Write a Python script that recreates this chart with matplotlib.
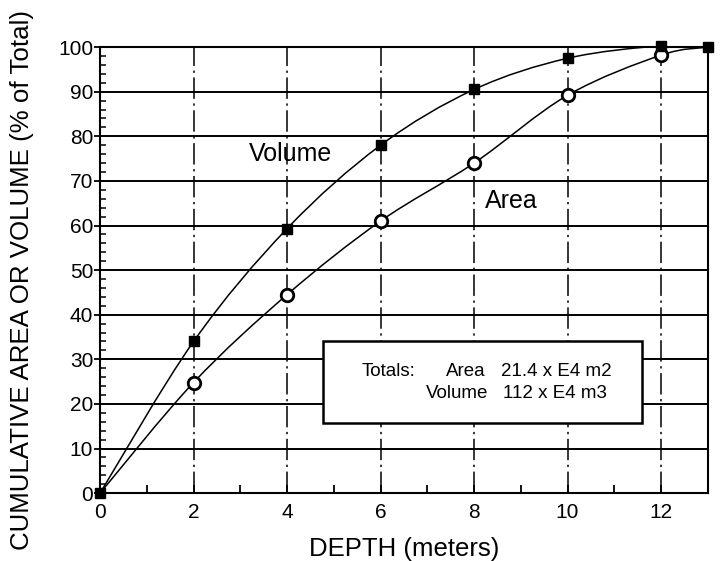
import numpy as np
import matplotlib
matplotlib.use("Agg")
import matplotlib.pyplot as plt
from matplotlib.path import Path
from matplotlib.patches import PathPatch, Rectangle
from matplotlib.ticker import MultipleLocator

plt.rcParams['font.family'] = ['Liberation Sans', 'DejaVu Sans']

# cumulative % of total vs depth
depth = [0, 2, 4, 6, 8, 10, 12, 13]
volume = [0, 34, 59.3, 78, 90.5, 97.5, 100.3, 100]
area = [0, 24.8, 44.5, 61, 74, 89.2, 98.2, 100]

xticks = [0, 2, 4, 6, 8, 10, 12]
yticks = [0, 10, 20, 30, 40, 50, 60, 70, 80, 90, 100]

totals_label = "Totals:"
totals_names = ["Area", "Volume"]
totals_values = ["21.4 x E4 m2", "112 x E4 m3"]


def smooth_path(x, y):
    # Catmull-Rom through the points, written as cubic Bezier segments
    pts = np.column_stack([x, y]).astype(float)
    ext = np.vstack([pts[0], pts, pts[-1]])
    verts = [pts[0]]
    codes = [Path.MOVETO]
    for i in range(1, len(ext) - 2):
        p0, p1, p2, p3 = ext[i - 1], ext[i], ext[i + 1], ext[i + 2]
        c1 = p1 + (p2 - p0) / 6.0
        c2 = p2 - (p3 - p1) / 6.0
        verts += [c1, c2, p2]
        codes += [Path.CURVE4] * 3
    return Path(verts, codes)


fig = plt.figure(figsize=(7.2, 5.61), dpi=100)
ax = fig.add_axes([0.139, 0.121, 0.844, 0.795])
ax.set_xlim(0, 13)
ax.set_ylim(0, 100)

# grid: solid horizontals, dash-dot verticals
for yv in yticks[1:-1]:
    ax.axhline(yv, color='black', lw=1.4, zorder=1)
for xv in xticks[1:]:
    ax.axvline(xv, color='black', lw=1.1, ls=(0, (14, 3, 1.5, 3)), zorder=1)

for s in ax.spines.values():
    s.set_linewidth(1.5)

# curves
ax.add_patch(PathPatch(smooth_path(depth, volume), fill=False, lw=1.1,
                       ec='black', zorder=3))
ax.add_patch(PathPatch(smooth_path(depth, area), fill=False, lw=1.1,
                       ec='black', zorder=3))
ax.plot(depth[1:-1], area[1:-1], 'o', ms=9, mfc='white', mec='black',
        mew=2.0, zorder=4, clip_on=False)
ax.plot(depth, volume, 's', ms=7.5, color='black', zorder=5, clip_on=False)

ax.text(3.19, 76, "Volume", fontsize=18, va='center', ha='left', zorder=6)
ax.text(8.24, 65.6, "Area", fontsize=18, va='center', ha='left', zorder=6)

# totals box
ax.add_patch(Rectangle((4.77, 15.7), 11.6 - 4.77, 34.2 - 15.7,
                       facecolor='white', edgecolor='black', lw=1.8, zorder=6))
ax.text(5.6, 26.3, totals_label, fontsize=13.5, va='baseline', zorder=7)
name_x = [7.40, 6.96]
value_x = [8.57, 8.63]
line_y = [26.3, 21.3]
for nm, val, nx, vx, yb in zip(totals_names, totals_values, name_x, value_x, line_y):
    ax.text(nx, yb, nm, fontsize=13.5, va='baseline', ha='left', zorder=7)
    ax.text(vx, yb, val, fontsize=13.5, va='baseline', ha='left', zorder=7)

# ticks
ax.set_xticks(xticks)
ax.set_yticks(yticks)
ax.xaxis.set_minor_locator(MultipleLocator(1))
ax.yaxis.set_minor_locator(MultipleLocator(2))
ax.tick_params(axis='x', which='major', direction='in', length=6, width=1.3,
               labelsize=15, pad=7)
ax.tick_params(axis='x', which='minor', direction='in', length=6, width=1.3)
ax.tick_params(axis='y', which='major', direction='out', length=4, width=1.3,
               labelsize=15, pad=1)
ax.tick_params(axis='y', which='minor', direction='in', length=4, width=1.1)

ax.set_xlabel("DEPTH (meters)", fontsize=18.5, labelpad=11)
fig.text(0.031, 0.5, "CUMULATIVE AREA OR VOLUME (% of Total)", fontsize=18.6,
         rotation=90, ha='center', va='center')

fig.savefig("out.png", dpi=100)
